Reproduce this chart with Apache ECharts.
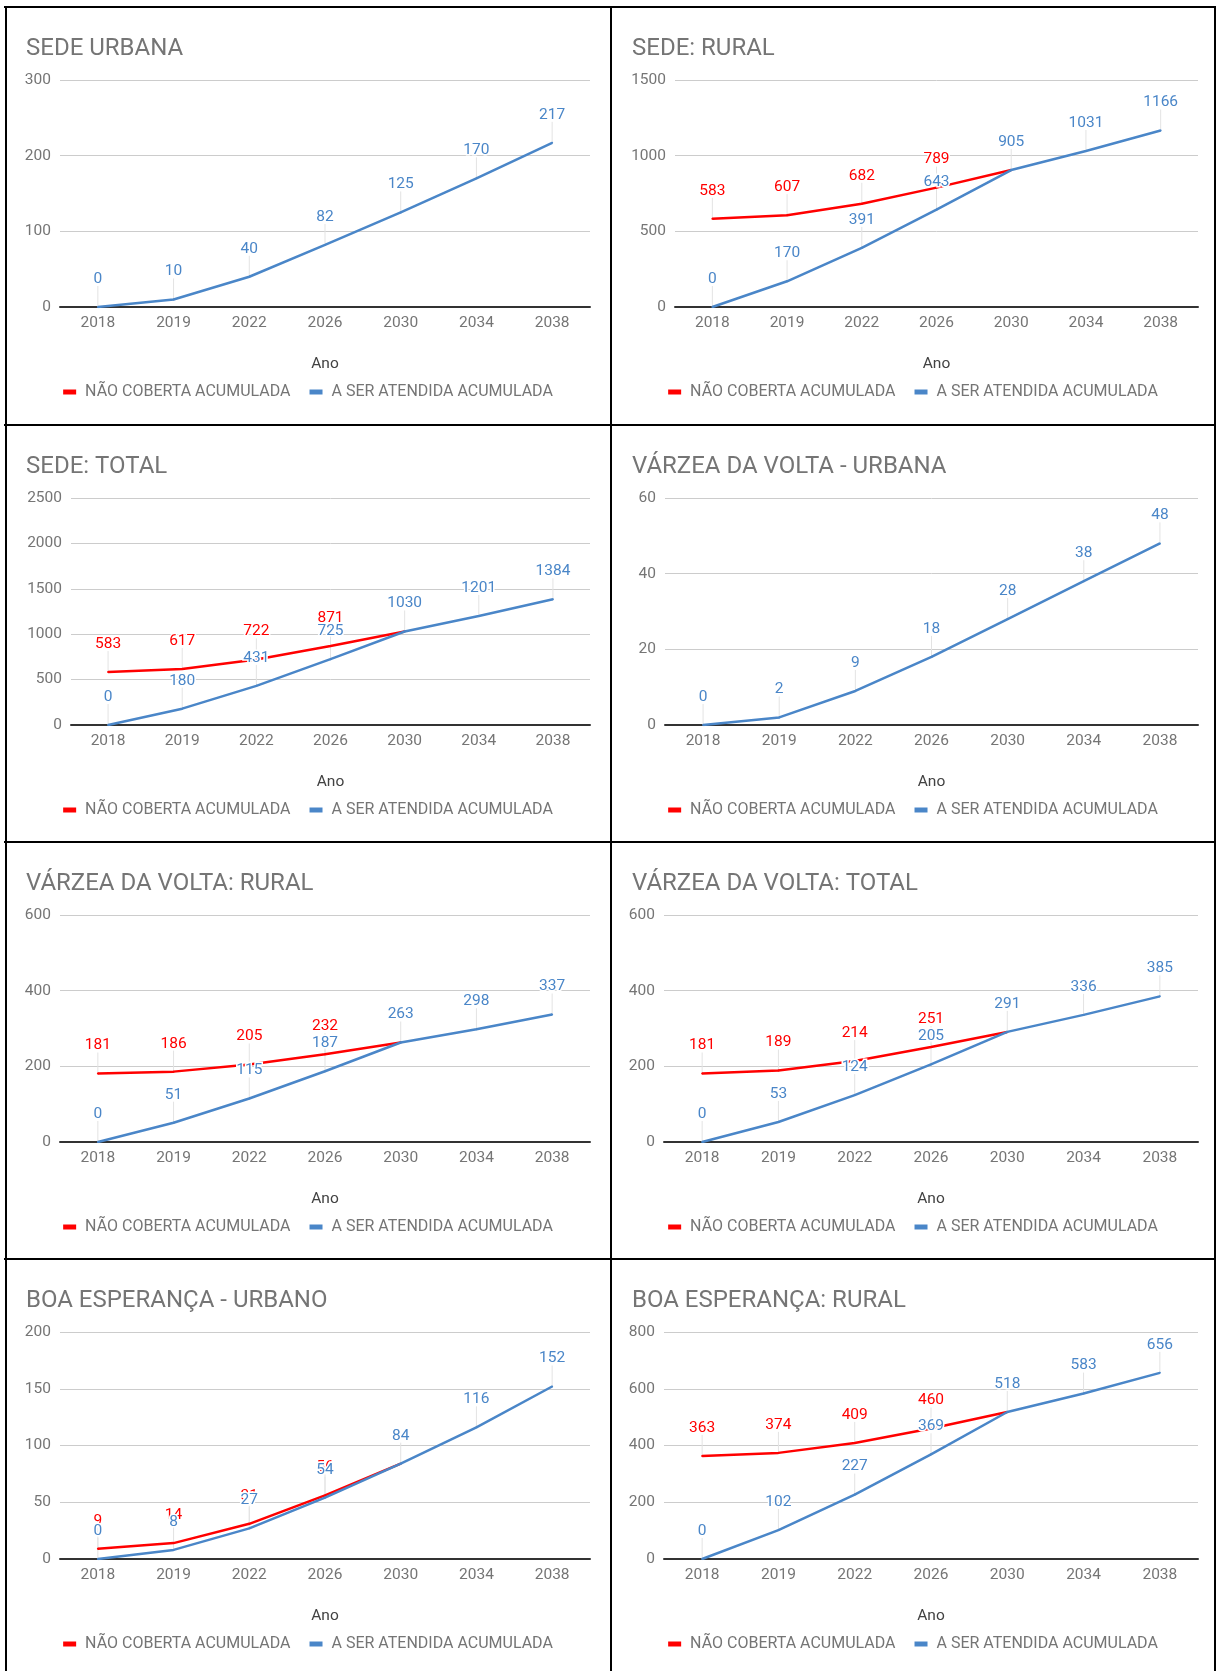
<!DOCTYPE html>
<html>
<head>
<meta charset="utf-8">
<script src="https://cdn.jsdelivr.net/npm/echarts@6/dist/echarts.min.js"></script>
<style>
body { margin: 0; background: #fff; }
#pagina { position: relative; width: 1216px; height: 1671px; overflow: hidden; }
.painel { position: absolute; }
.borda { position: absolute; background: #000; z-index: 2; }
</style>
</head>
<body>
<div id="pagina"></div>
<script>
// dados
var anos = ["2018", "2019", "2022", "2026", "2030", "2034", "2038"];

var sedeUrbanaNao = [];
var sedeUrbanaAtendida = [0, 10, 40, 82, 125, 170, 217];
var sedeRuralNao = [583, 607, 682, 789, 905];
var sedeRuralAtendida = [0, 170, 391, 643, 905, 1031, 1166];
var sedeTotalNao = [583, 617, 722, 871, 1030];
var sedeTotalAtendida = [0, 180, 431, 725, 1030, 1201, 1384];
var varzeaUrbanaNao = [];
var varzeaUrbanaAtendida = [0, 2, 9, 18, 28, 38, 48];
var varzeaRuralNao = [181, 186, 205, 232, 263];
var varzeaRuralAtendida = [0, 51, 115, 187, 263, 298, 337];
var varzeaTotalNao = [181, 189, 214, 251, 291];
var varzeaTotalAtendida = [0, 53, 124, 205, 291, 336, 385];
var boaUrbanoNao = [9, 14, 31, 56, 84];
var boaUrbanoAtendida = [0, 8, 27, 54, 84, 116, 152];
var boaRuralNao = [363, 374, 409, 460, 518];
var boaRuralAtendida = [0, 102, 227, 369, 518, 583, 656];

var nomeNao = "NÃO COBERTA ACUMULADA";
var nomeAtendida = "A SER ATENDIDA ACUMULADA";
var corNao = "#ff0000";
var corAtendida = "#4a86c8";

var paineis = [
  { titulo: "SEDE URBANA", nao: sedeUrbanaNao, atendida: sedeUrbanaAtendida, max: 300, intervalo: 100, esq: 55, col: 0, lin: 0 },
  { titulo: "SEDE: RURAL", nao: sedeRuralNao, atendida: sedeRuralAtendida, max: 1500, intervalo: 500, esq: 64, col: 1, lin: 0 },
  { titulo: "SEDE: TOTAL", nao: sedeTotalNao, atendida: sedeTotalAtendida, max: 2500, intervalo: 500, esq: 66, col: 0, lin: 1 },
  { titulo: "VÁRZEA DA VOLTA - URBANA", nao: varzeaUrbanaNao, atendida: varzeaUrbanaAtendida, max: 60, intervalo: 20, esq: 54, col: 1, lin: 1 },
  { titulo: "VÁRZEA DA VOLTA: RURAL", nao: varzeaRuralNao, atendida: varzeaRuralAtendida, max: 600, intervalo: 200, esq: 55, col: 0, lin: 2 },
  { titulo: "VÁRZEA DA VOLTA: TOTAL", nao: varzeaTotalNao, atendida: varzeaTotalAtendida, max: 600, intervalo: 200, esq: 53, col: 1, lin: 2 },
  { titulo: "BOA ESPERANÇA - URBANO", nao: boaUrbanoNao, atendida: boaUrbanoAtendida, max: 200, intervalo: 50, esq: 55, col: 0, lin: 3 },
  { titulo: "BOA ESPERANÇA: RURAL", nao: boaRuralNao, atendida: boaRuralAtendida, max: 800, intervalo: 200, esq: 53, col: 1, lin: 3 }
];

var colunas = [{ x: 5, w: 606, dir: 21 }, { x: 611, w: 604, dir: 17 }];
var linhas = [{ y: 7, h: 418 }, { y: 425, h: 417 }, { y: 842, h: 417 }, { y: 1259, h: 412 }];

var pagina = document.getElementById("pagina");

// linhas da tabela
[6, 424, 841, 1258].forEach(function (y) {
  var d = document.createElement("div");
  d.className = "borda";
  d.style.cssText = "left:4px;top:" + y + "px;width:1212px;height:2px;";
  pagina.appendChild(d);
});
[5, 610, 1214].forEach(function (x) {
  var d = document.createElement("div");
  d.className = "borda";
  d.style.cssText = "left:" + x + "px;top:6px;width:2px;height:1665px;";
  pagina.appendChild(d);
});

// traço cinza entre o ponto e o rótulo
function guia(cor) {
  return function (params, api) {
    var p = api.coord([api.value(0), api.value(1)]);
    return {
      type: "line",
      shape: { x1: p[0], y1: p[1], x2: p[0], y2: p[1] - 21 },
      style: { stroke: cor, lineWidth: 1 }
    };
  };
}

function serieLinha(nome, valores, cor, outros, z) {
  var dados = valores.map(function (v, i) {
    // rótulo escondido quando coincide com a outra série
    var mostra = !outros || outros[i] !== v;
    return { value: v, label: { show: mostra } };
  });
  return {
    name: nome,
    type: "line",
    data: dados,
    z: z,
    symbol: "circle",
    symbolSize: 2,
    itemStyle: { color: cor },
    lineStyle: { color: cor, width: 2.5 },
    label: {
      show: true,
      position: "top",
      distance: 19,
      color: cor,
      fontSize: 15.5,
      fontFamily: "Roboto",
      textBorderColor: "#fff",
      textBorderWidth: 3
    },
    emphasis: { disabled: true }
  };
}

function serieGuia(valores, outros) {
  var pts = [];
  valores.forEach(function (v, i) {
    if (!outros || outros[i] !== v) pts.push([i, v]);
  });
  return {
    type: "custom",
    renderItem: guia("#e3e3e3"),
    data: pts,
    z: 1,
    silent: true
  };
}

paineis.forEach(function (p) {
  var c = colunas[p.col];
  var l = linhas[p.lin];
  var div = document.createElement("div");
  div.className = "painel";
  div.style.cssText = "left:" + c.x + "px;top:" + l.y + "px;width:" + c.w + "px;height:" + l.h + "px;";
  pagina.appendChild(div);

  var myChart = echarts.init(div);
  var option = {
    animation: false,
    backgroundColor: "#fff",
    textStyle: { fontFamily: "Roboto" },
    title: {
      text: p.titulo,
      left: 21,
      top: 30,
      padding: 0,
      textStyle: { fontSize: 24, fontWeight: "normal", color: "#757575", fontFamily: "Roboto" }
    },
    legend: {
      data: [nomeNao, nomeAtendida],
      left: "center",
      top: 377,
      padding: 0,
      icon: "rect",
      itemWidth: 13,
      itemHeight: 5,
      itemGap: 19,
      formatter: " {name}",
      textStyle: { fontSize: 16, color: "#757575", fontFamily: "Roboto" }
    },
    grid: {
      left: p.esq,
      right: c.dir,
      top: 73,
      height: 227
    },
    xAxis: {
      type: "category",
      data: anos,
      boundaryGap: true,
      name: "Ano",
      nameLocation: "middle",
      nameGap: 49,
      nameTextStyle: { fontSize: 15.5, color: "#424242", fontFamily: "Roboto" },
      axisLine: { lineStyle: { color: "#333", width: 2 } },
      axisTick: { show: false },
      axisLabel: { fontSize: 15.5, color: "#757575", margin: 8, fontFamily: "Roboto" }
    },
    yAxis: {
      type: "value",
      min: 0,
      max: p.max,
      interval: p.intervalo,
      axisLine: { show: false },
      axisTick: { show: false },
      axisLabel: {
        fontSize: 15.5,
        color: "#757575",
        margin: 9,
        fontFamily: "Roboto",
        formatter: function (v) { return String(v); }
      },
      splitLine: { lineStyle: { color: "#cccccc", width: 1 } }
    },
    series: [
      serieGuia(p.nao, p.atendida),
      serieGuia(p.atendida, null),
      serieLinha(nomeNao, p.nao, corNao, p.atendida, 2),
      serieLinha(nomeAtendida, p.atendida, corAtendida, null, 3)
    ]
  };
  myChart.setOption(option);
});
</script>
</body>
</html>
